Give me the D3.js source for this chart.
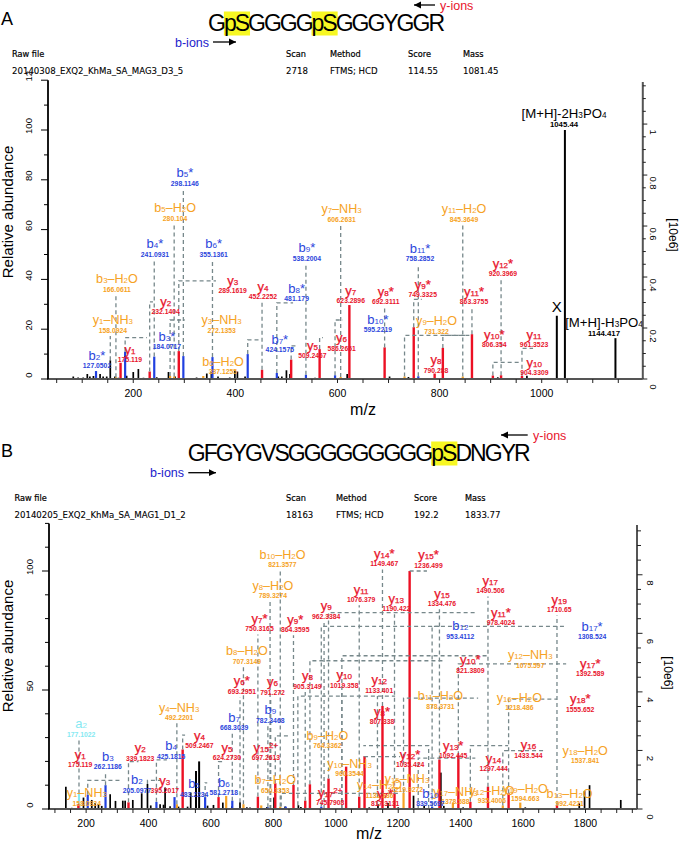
<!DOCTYPE html>
<html><head><meta charset="utf-8">
<style>html,body{margin:0;padding:0;background:#fff}svg{display:block}</style>
<script src="https://cdn.jsdelivr.net/npm/d3@7/dist/d3.min.js"></script>
</head><body><svg id="c" width="680" height="842"></svg>
<script>
// ---------- Panel A values ----------
const seqA = "GpSGGGGpSGGGYGGR";
const metaHeads = ["Raw file","Scan","Method","Score","Mass"];
const metaA = ["20140308_EXQ2_KhMa_SA_MAG3_D3_5","2718","FTMS; HCD","114.55","1081.45"];
const ticksLeftA = [0,20,40,60,80,100,120];
const tickLabelsLeftA = ["0","20","40","60","80","100","12"];
const ticksRightA = [0,0.2,0.4,0.6,0.8,1];
const xTicksA = [200,400,600,800,1000];
const blackA = [[82.5,1],[92,.6],[102,.6],[110,2],[115,1],[122,1.2],[135,2],[141,1],[148,1],[155,7.5],[164,1],[171,.5],[187,1.3],[200,2.8],[210,4],[220,.5],[246,.7],[269,2.8],[282,1],[324,.6],[344,2.2],[353,2.8],[366,1],[389,.6],[399,3.5],[404,3],[419,1],[484,1],[491,1],[500,3.5],[507,2],[556,.5],[619,2],[702,1],[739,.8],[914,.7],[971,1.3],[1029.6,25.4],[1045.44,100],[1144.42,16.4]];
const blueA = [[127.05,3.2],[184.07,11],[241.09,9],[298.11,9.2],[355.14,8.8],[424.16,10],[481.18,2.4],[538.2,1.7],[595.22,1.5],[758.29,1.1]];
const redA = [[175.12,6.5],[232.14,3],[289.16,11.2],[452.23,3.7],[509.25,7.8],[565,12],[623.29,29.7],[692.31,12.7],[749.33,20.8],[790.29,2.2],[806.35,12.5],[863.38,18],[904.33,1.4],[920.4,1.5],[961.35,1.3]];
const orangeA = [[166.06,.7],[272.14,1.2],[280.1,1],[337.13,1.2],[606.26,.8],[731.32,1],[845.36,1]];
// kind, ion, mass text, peak m/z, label m/z, label abundance, elbow abundance (null = straight, -1 = none), elbow end m/z
const ionsA = [
["b","b_5*","298.1146",298.11,301,82.7,null,null],
["o","b_5–H_2O","280.104",280.1,282,68.7,null,null],
["b","b_4*","241.0931",241.09,242.5,54.2,null,null],
["b","b_6*","355.1361",355.14,357.5,54.2,null,null],
["b","b_9*","538.2004",538.2,540,52.6,null,null],
["o","b_3–H_2O","166.0611",166.06,168,40.2,null,null],
["r","y_3","289.1619",289.16,394.7,39.4,39.4,362],
["r","y_4","452.2252",452.23,454,37.3,null,null],
["b","b_8*","481.179",481.18,520,36.5,30.6,513],
["r","y_2","232.1404",232.14,263.5,31,31,238.6],
["o","y_1–NH_3","158.0924",155,160,23.7,null,null],
["o","y_3–NH_3","272.1353",272.14,373,23.7,23.7,301],
["r","y_1","175.119",175.12,193.5,12,-1,null],
["b","b_3*","184.0717",184.07,266,17,16.6,226.8],
["b","b_2*","127.0502",127.05,129,9.6,-1,null],
["r","y_5","509.2467",509.25,551,13.4,13.3,522.6],
["b","b_7*","424.1575",424.16,487,16,15.7,448],
["o","b_6–H_2O","337.1255",337.13,375.7,6.9,-1,null],
["r","y_6","586.2651",565,608,16.5,16.6,571.6],
["o","y_7–NH_3","606.2631",606.26,608,68.3,null,null],
["r","y_7","623.2896",623.29,626,35.5,null,null],
["r","y_8*","692.3111",692.31,694.4,35.3,null,null],
["b","b_10*","595.2219",595.22,679,24,23.7,610.8],
["b","b_11*","758.2852",758.29,761.6,52.5,null,null],
["r","y_9*","749.3325",749.33,767,38,32,765],
["r","y_11*","863.3755",863.38,867.4,35,null,null],
["r","y_12*","920.3969",920.4,924,46.5,null,null],
["o","y_11–H_2O","845.3649",845.36,847.8,68.3,null,null],
["o","y_9–H_2O","731.322",731.32,794,23.3,17.5,849.7],
["r","y_8","790.288",790.29,793,7.6,-1,null],
["r","y_10*","806.354",806.35,907,18,17.5,859.5],
["r","y_11","961.3523",961.35,985,18,12.3,983],
["r","y_10","904.3309",904.33,985.5,6.5,6.7,957],
["k","X","",1029.6,1029.4,29,-1,null],
["k","[M+H]-2H_3PO_4","1045.44",1045.44,1043.7,106.8,-1,null],
["k","[M+H]-H_3PO_4","1144.417",1144.42,1122,22.5,-1,null]
];
// ---------- Panel B values ----------
const seqB = "GFGYGVSGGGGGGGGGpSDNGYR";
const metaB = ["20140205_EXQ2_KhMa_SA_MAG1_D1_2","18163","FTMS; HCD","192.2","1833.77"];
const ticksLeftB = [0,50,100];
const tickLabelsLeftB = ["0","50","100"];
const ticksRightB = [0,2,4,6,8];
const xTicksB = [200,400,600,800,1000,1200,1400,1600,1800];
const blackB = [[135,9.4],[154,.5],[178,1.5],[191.5,4.8],[218,3.8],[229,2.5],[239.5,2],[250,1.3],[277,6.2],[294,3.4],[317.5,3.5],[325,3.5],[349.5,3.8],[378,6.6],[396.5,10.5],[407,1.5],[437,2],[448,1.8],[453,9],[469,1.2],[496,1],[525,1],[535,6.9],[552,16],[562,20],[589,1.4],[608,1.7],[638,2.7],[667,1.2],[693,2.8],[715,.7],[725,.6],[779,.8],[802,4.8],[837.6,1],[880,1.6],[888,.8],[1107,.7],[1135,2],[1167,2.5],[1200,.7],[1249,5.6],[1283,1.5],[1336,15.3],[1346,1.3],[1375,2.4],[1408,.7],[1607,.7],[1780,2.4],[1797,7.6],[1813,10],[1913,3.8]];
const blueB = [[205.1,6],[262.12,10],[425.18,3],[483.22,5],[581.27,5],[668.3,3.5],[782.35,.7],[839.57,1],[953.41,1],[1308.52,1]];
const redB = [[175.12,2],[335.7,2.8],[509.25,25],[624.27,5],[750.32,5.2],[806,10.8],[864.36,10.1],[902,3.5],[917,10.4],[976.6,12.8],[1033,17.8],[1075,5.2],[1092,22.2],[1149.47,43.3],[1188,6.8],[1236.5,100],[1332,20.8],[1392.59,22.6],[1431,3],[1487.5,9.4],[1553.6,6.6],[1708.6,1.7]];
const orangeB = [[490.7,2],[648.7,5.5],[704,2],[761,1.5],[822,1],[1217,6.8],[1375,2.7],[1535,1.5],[1591,2.7]];
const cyanB = [[177.1,6.5]];
const ionsB = [
["c","a_2","177.1022",177.1,184,35.7,null,null],
["r","y_1","175.119",175.12,181,23,-1,null],
["b","b_3","262.1186",262.12,269.5,22,null,null],
["b","b_2","205.0977",205.1,362.5,12.2,12,306.7],
["o","y_1–NH_3","158.0924",158.09,202,6.7,-1,null],
["r","y_2","339.1823",335.7,373,25.6,19.9,367.6],
["b","b_4","425.1815",425.18,472.4,26.5,20.6,458.6],
["r","y_3","395.2017",396.5,452,11.9,12,437],
["o","y_4–NH_3","492.2201",490.7,498,42.7,null,null],
["r","y_4","509.2467",509.25,563,31,31,517],
["b","b_5","483.2234",483.22,546,10.5,-1,null],
["b","b_6","581.2718",581.27,641,11,11,588],
["r","y_5","624.2730",624.27,651,25.8,19.9,639],
["b","b_7","668.3039",668.3,674,38.5,null,null],
["r","y_6*","693.2951",693,699,53.8,null,null],
["o","b_8–H_2O","707.3149",704,715,66.3,null,null],
["r","y_6","791.272",791.27,797,53.4,null,null],
["b","b_9","782.3468",782.35,790,41.6,null,null],
["r","y_15^2+","697.2613",697.26,776,25.8,-1,null],
["o","b_9–H_2O","764.3362",806,973,31,30.7,854],
["r","y_7*","750.3165",750.32,755.5,80,null,null],
["o","b_10–H_2O","821.3577",822,829,107,null,null],
["o","y_8–H_2O","789.3274",789.33,798.4,93.8,null,null],
["r","y_9*","864.3595",864.36,870,79.7,null,null],
["r","y_9","962.3384",962.34,969,85.3,null,null],
["r","y_11","1076.379",1075,1081,92.3,null,null],
["r","y_13","1190.422",1188,1193.6,88.5,null,null],
["r","y_14*","1149.467",1149.47,1155,107.4,null,null],
["r","y_15*","1236.499",1236.5,1297,106.7,100,1292],
["r","y_15","1334.476",1332,1340,90.6,null,null],
["r","y_17","1490.506",1487.5,1495,96,null,null],
["r","y_19","1710.65",1708.6,1716,88,null,null],
["r","y_11*","978.4024",976.6,1529,82.5,82.5,1453],
["b","b_12","953.4112",953.41,1399,76.9,76.7,1334.6],
["b","b_17*","1308.524",1308.52,1821,76.6,76.7,1738],
["r","y_10*","821.3809",917,1431,62.6,62.3,1351],
["o","y_12–NH_3","1075.597",1019.36,1623,64.7,64.4,1488],
["r","y_17*","1392.589",1392.59,1815,61,61,1738],
["r","y_10","1019.358",1019.36,1027,56.3,null,null],
["r","y_12","1133.401",1133.4,1139,54.2,null,null],
["r","y_8","905.3149",902,909,55.9,null,null],
["r","y_18*","1555.652",1553.6,1783,46.2,46.2,1708.6],
["o","y_16–H_2O","1218.486",1217,1588,46.8,46.6,1456],
["o","b_11–H_2O","878.3731",878.37,1335,47.5,47.4,1190],
["r","y_13*","1092.445",1264,1376,26.6,21.4,1447],
["r","y_12*","1035.424",1092,1238,23,22,1206],
["r","y_14","1297.444",1297.44,1505.5,21.3,26.6,1088],
["r","y_16","1433.544",1431,1617,26.9,26.6,1552],
["o","y_18–H_2O","1537.841",1535,1799,24.5,24.5,1671],
["o","y_19–H_2O","1594.663",1591,1607,8.5,-1,null],
["o","y_12–H_2O","935.4006",935.4,1500,7.7,-1,null],
["o","b_13–H_2O","992.4221",992.42,1749,6.6,-1,null],
["o","y_17–NH_3","1378.588",1375,1383,7.4,-1,null],
["b","b_10","839.5697",839.57,1303,6.6,-1,null],
["o","y_15–NH_3","1219.9272",1217,1228,12.6,-1,null],
["o","y_14–H_2O","1132.386",1132.39,1140,10,-1,null],
["r","y_7*","817.3131",817.31,1158,6.6,-1,null],
["r","y_8*","807.338",807.34,1148,40.8,-1,null],
["o","y_10–NH_3","960.3544",960.35,1044,19.2,-1,null],
["o","b_7–H_2O","650.3353",650.34,806,12.2,-1,null],
["r","y_17^2+","745.7908",825,982,6.8,6.6,1206]
];

const ink = {k:"#000", b:"#2b45dc", r:"#e8142c", o:"#f6a224", c:"#86e9f2"};
const bar = {k:"#000", b:"#2040e0", r:"#ec1024", o:"#f6a224", c:"#86e9f2"};
const nameSize = {k:13.2, b:13, r:13, o:12.6, c:13};
const SANS = "'Liberation Sans',Arial,sans-serif";
const svg = d3.select("#c");

function richName(sel, s){
  // "_12" = small subscript, "^2+" = small superscript
  const parts = s.split(/(_\d+|\^\d\+)/).filter(Boolean);
  parts.forEach(p=>{
    if(p[0]==="_") sel.append("tspan").attr("font-size","0.62em").text(p.slice(1));
    else if(p[0]==="^") sel.append("tspan").attr("font-size","0.62em").attr("dy","-0.5em").text(p.slice(1));
    else sel.append("tspan").text(p);
  });
}

function drawPanel(p){
  const g = svg.append("g");
  const x = d3.scaleLinear().domain(p.xDomain).range(p.xRange);
  const y = d3.scaleLinear().domain([0,p.leftMax]).range([p.base,p.base-p.leftMax*p.pxPer]);
  const yR = d3.scaleLinear().domain([0,p.rightMax]).range([p.base,p.rightTop]);

  // sequence with highlighted pS
  const seq = g.append("text").attr("x",p.seqX).attr("y",p.seqY).attr("font-family",SANS).attr("font-size",p.seqSize).attr("fill","#000").text(p.seq);
  if(p.seqWidth) seq.attr("textLength",p.seqWidth).attr("lengthAdjust","spacing");
  let i = p.seq.indexOf("pS");
  const node = seq.node();
  while(i>=0){
    const a = node.getStartPositionOfChar(i).x, b = node.getEndPositionOfChar(i+1).x;
    g.insert("rect","text").attr("x",a).attr("y",p.seqY-19.5).attr("width",b-a).attr("height",24).attr("fill","#f7f723");
    i = p.seq.indexOf("pS",i+2);
  }
  g.append("text").attr("x",1).attr("y",p.letterY).attr("font-family",SANS).attr("font-size",18).text(p.letter);
  // ion direction legends
  const arrow=(x1,x2,yy)=>{
    g.append("line").attr("x1",x1).attr("x2",x2).attr("y1",yy).attr("y2",yy).attr("stroke","#000").attr("stroke-width",1.3);
    const d=x2>x1?1:-1;
    g.append("path").attr("d",`M${x2},${yy}l${-7*d},-3.4v6.8z`).attr("fill","#000");
  };
  g.append("text").attr("x",p.bIons[0]).attr("y",p.bIons[1]+4.5).attr("font-family",SANS).attr("font-size",12.5).attr("fill","#1c22cc").text("b-ions");
  arrow(p.bIons[2],p.bIons[3],p.bIons[1]);
  g.append("text").attr("x",p.yIons[0]).attr("y",p.yIons[1]+4.5).attr("font-family",SANS).attr("font-size",12.5).attr("fill","#e8142c").text("y-ions");
  arrow(p.yIons[2],p.yIons[3],p.yIons[1]);
  // meta
  metaHeads.forEach((h,k)=>{
    g.append("text").attr("x",p.metaX[k]).attr("y",p.metaY[0]).attr("font-family","'DejaVu Sans',sans-serif").attr("font-size",8.2).attr("stroke","#000").attr("stroke-width",.2).text(h);
    g.append("text").attr("x",p.metaX[k]).attr("y",p.metaY[1]).attr("font-family","'DejaVu Sans',sans-serif").attr("font-size",8.6).attr("stroke","#000").attr("stroke-width",.1).text(p.meta[k]);
  });

  // peaks
  const all = [];
  [["k",p.black],["o",p.orange],["b",p.blue],["c",p.cyan||[]],["r",p.red]].forEach(([k,arr])=>arr.forEach(d=>all.push({k,mz:d[0],ab:d[1]})));
  g.selectAll("line.peak").data(all).join("line").attr("class","peak")
    .attr("x1",d=>x(d.mz)).attr("x2",d=>x(d.mz)).attr("y1",y(0)).attr("y2",d=>y(d.ab))
    .attr("stroke",d=>bar[d.k]).attr("stroke-width",d=>d.k==="k"?(d.ab>=15?2:1.7):(d.k==="r"?2.4:2.2));

  // connectors
  const peakAb = mz=>{ const q=d3.least(all,d=>Math.abs(d.mz-mz)); return Math.abs(q.mz-mz)<4?q.ab:0; };
  const ions = p.ions.map(r=>({k:r[0],name:r[1],mass:r[2],peak:r[3],lm:r[4],la:r[5],ea:r[6],em:r[7]}));
  const dash = g.append("g").attr("fill","none").attr("stroke","#77888b").attr("stroke-width",1.3).attr("stroke-dasharray","4 3");
  ions.forEach(d=>{
    if(d.ea===-1) return;
    const x0=x(d.peak), y0=y(peakAb(d.peak));
    if(d.ea===null){
      const top=y(d.la)+16;
      if(top<y0) dash.append("path").attr("d",d3.line()([[x0,y0],[x0,top]]));
    } else {
      dash.append("path").attr("d",d3.line()([[x0,y0],[x0,y(d.ea)],[x(d.em),y(d.ea)]]));
    }
  });

  // labels
  ions.forEach(d=>{
    const big = d.name==="X"?15:nameSize[d.k];
    const t=g.append("text").attr("x",x(d.lm)).attr("y",y(d.la)+big*.34).attr("text-anchor","middle")
      .attr("font-family",SANS).attr("font-size",big).attr("fill",ink[d.k]);
    if(d.k==="r") t.attr("stroke",ink[d.k]).attr("stroke-width",.25);
    richName(t,d.name);
    if(d.mass) g.append("text").attr("x",x(d.lm)).attr("y",y(d.la)+(d.k==="k"?13.5:12.6)).attr("text-anchor","middle")
      .attr("font-family",SANS).attr("font-size",d.k==="k"?7.8:6.8).attr("font-weight",700).attr("fill",ink[d.k]).text(d.mass);
  });

  // axes
  const minorX = d3.range(Math.ceil(p.xDomain[0]/50)*50,p.xDomain[1],50);
  g.append("line").attr("x1",p.xRange[0]-1).attr("x2",p.xRange[1]).attr("y1",y(0)).attr("y2",y(0)).attr("stroke","#555").attr("stroke-width",2);
  g.selectAll("line.mx").data(minorX).join("line").attr("class","mx").attr("x1",x).attr("x2",x).attr("y1",y(0)).attr("y2",y(0)+4).attr("stroke","#222").attr("stroke-width",1);
  g.selectAll("text.xt").data(p.xTicks).join("text").attr("class","xt").attr("x",x).attr("y",y(0)+p.xLabelDy).attr("text-anchor","middle").attr("font-family",SANS).attr("font-size",10.5).text(d=>d);

  g.append("line").attr("x1",p.xRange[0]).attr("x2",p.xRange[0]).attr("y1",y(0)).attr("y2",y(p.leftMax)).attr("stroke","#000").attr("stroke-width",1.8);
  const minorY = d3.range(0,p.leftMax+0.01,10);
  g.selectAll("line.ml").data(minorY).join("line").attr("class","ml").attr("x1",p.xRange[0]).attr("x2",d=>p.xRange[0]-(p.ticksLeft.includes(d)?7:4)).attr("y1",y).attr("y2",y).attr("stroke","#000").attr("stroke-width",1);
  g.selectAll("text.yl").data(p.ticksLeft).join("text").attr("class","yl")
    .attr("transform",d=>`translate(${p.xRange[0]-16},${y(d)-4}) rotate(-90)`).attr("text-anchor","middle").attr("font-family",SANS).attr("font-size",9.5)
    .text((d,k)=>p.tickLabelsLeft[k]);

  g.append("line").attr("x1",p.xRange[1]).attr("x2",p.xRange[1]).attr("y1",y(0)).attr("y2",p.rightTop).attr("stroke","#555").attr("stroke-width",2);
  const minorR = d3.range(0,p.rightMax+1e-6,p.rightMinor);
  g.selectAll("line.mr").data(minorR).join("line").attr("class","mr").attr("x1",p.xRange[1]).attr("x2",d=>p.xRange[1]+(p.ticksRight.some(v=>Math.abs(v-d)<1e-6)?p.rightTick+1.5:p.rightTick)).attr("y1",yR).attr("y2",yR).attr("stroke","#222").attr("stroke-width",1);
  g.selectAll("text.yr").data(p.ticksRight).join("text").attr("class","yr")
    .attr("transform",d=>`translate(${p.rightLabelX},${yR(d)+8}) rotate(90)`).attr("text-anchor","middle").attr("font-family",SANS).attr("font-size",9.5).text(d=>d);

  g.append("text").attr("transform",`translate(13,${p.yLabelY}) rotate(-90)`).attr("text-anchor","middle").attr("font-family",SANS).attr("font-size",15).text("Relative abundance");
  g.append("text").attr("x",p.mzX).attr("y",p.mzY).attr("text-anchor","middle").attr("font-family",SANS).attr("font-size",16).text("m/z");
  g.append("text").attr("transform",`translate(${p.unitX},${p.unitY}) rotate(90)`).attr("text-anchor","middle").attr("font-family",SANS).attr("font-size",12).text("[10e6]");
}

drawPanel({letter:"A",letterY:25,seq:seqA,seqX:208,seqY:31,seqSize:23,seqWidth:237,
  bIons:[175,42,213,236],yIons:[440,5,435,414],
  meta:metaA,metaX:[12,286,330,408,463],metaY:[57,74],
  xDomain:[33,1198],xRange:[48,642.8],base:379,leftMax:120,pxPer:2.49,rightMax:1.165,rightTop:82,rightMinor:.05,rightTick:3,rightLabelX:650,
  ticksLeft:ticksLeftA,tickLabelsLeft:tickLabelsLeftA,ticksRight:ticksRightA,xTicks:xTicksA,xLabelDy:18,
  black:blackA,blue:blueA,red:redA,orange:orangeA,ions:ionsA,
  yLabelY:212,mzX:363,mzY:415,unitX:669,unitY:235});

drawPanel({letter:"B",letterY:457,seq:seqB,seqX:187.7,seqY:461,seqSize:23,seqWidth:343,
  bIons:[150,472.7,188.3,216],yIons:[533,435,527.7,501],
  meta:metaB,metaX:[14.5,286,336,414,465],metaY:[501,518],
  xDomain:[81,1965],xRange:[49,637],base:809,leftMax:120,pxPer:2.38,rightMax:9.7,rightTop:525,rightMinor:.5,rightTick:4,rightLabelX:647,
  ticksLeft:ticksLeftB,tickLabelsLeft:tickLabelsLeftB,ticksRight:ticksRightB,xTicks:xTicksB,xLabelDy:18,
  black:blackB,blue:blueB,red:redB,orange:orangeB,cyan:cyanB,ions:ionsB,
  yLabelY:646,mzX:369,mzY:839,unitX:664,unitY:673});
</script></body></html>
